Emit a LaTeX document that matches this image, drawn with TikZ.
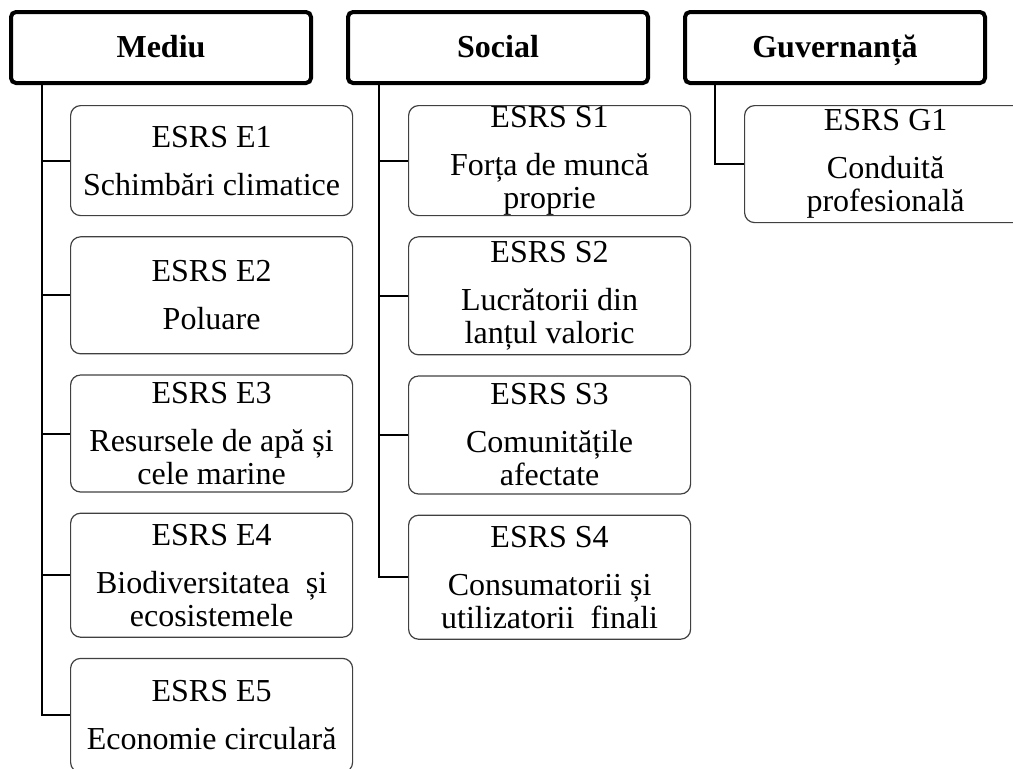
\documentclass[tikz,border=0pt]{standalone}
\usepackage{fontspec}
\setmainfont{Liberation Serif}
\usetikzlibrary{positioning,calc}

\begin{document}
\begin{tikzpicture}[
    head/.style={draw, line width=2pt, rounded corners=2.5pt, minimum width=150pt, minimum height=35.5pt, text height=12pt, text depth=2.5pt, font=\fontsize{16}{16.5}\selectfont\bfseries},
    item/.style={draw=black!75, line width=0.6pt, rounded corners=5pt, minimum width=141pt, inner sep=0pt, align=center, font=\fontsize{16}{16.5}\selectfont},
    link/.style={line width=1pt}
]
\useasboundingbox (0,0) rectangle (506.5pt,-384pt);
\clip (0,0) rectangle (506.5pt,-384pt);

% header boxes
\node[head] (mediu) at (80.5pt,-23.75pt) {Mediu};
\node[head, right=16.5pt of mediu] (social) {Social};
\node[head, right=16.5pt of social] (guv) {Guvernanță};

\coordinate (mline) at ($(mediu.south west)+(16.5pt,0)$);
\coordinate (sline) at ($(social.south west)+(16.5pt,0)$);
\coordinate (gline) at ($(guv.south west)+(16pt,0)$);

% Mediu
\node[item, minimum height=55pt, below right=10pt and 14pt of mline] (e1) {ESRS E1\\[7.5pt]Schimbări climatice};
\node[item, minimum height=58.5pt, below=10pt of e1] (e2) {ESRS E2\\[7.5pt]Poluare};
\node[item, minimum height=58.5pt, below=10pt of e2] (e3) {ESRS E3\\[7.5pt]Resursele de apă și\\cele marine};
\node[item, minimum height=62pt, below=10pt of e3] (e4) {ESRS E4\\[7.5pt]Biodiversitatea~ și\\ecosistemele};
\node[item, minimum height=57pt, below=10pt of e4] (e5) {ESRS E5\\[7.5pt]Economie circulară};

% Social
\node[item, minimum height=55pt, below right=10pt and 14.5pt of sline] (s1) {ESRS S1\\[7.5pt]Forța de muncă\\proprie};
\node[item, minimum height=59pt, below=10pt of s1] (s2) {ESRS S2\\[7.5pt]Lucrătorii din\\lanțul valoric};
\node[item, minimum height=59pt, below=10pt of s2] (s3) {ESRS S3\\[7.5pt]Comunitățile\\afectate};
\node[item, minimum height=62pt, below=10pt of s3] (s4) {ESRS S4\\[7.5pt]Consumatorii și\\utilizatorii~ finali};

% Guvernanta
\node[item, minimum height=58.5pt, below right=10pt and 14.5pt of gline] (g1) {ESRS G1\\[7.5pt]Conduită\\profesională};

% connectors
\draw[link] (mline) |- (e5.west);
\foreach \n in {e1,e2,e3,e4}
    \draw[link] (mline |- \n.west) -- (\n.west);
\draw[link] (sline) |- (s4.west);
\foreach \n in {s1,s2,s3}
    \draw[link] (sline |- \n.west) -- (\n.west);
\draw[link] (gline) |- (g1.west);
\end{tikzpicture}
\end{document}
